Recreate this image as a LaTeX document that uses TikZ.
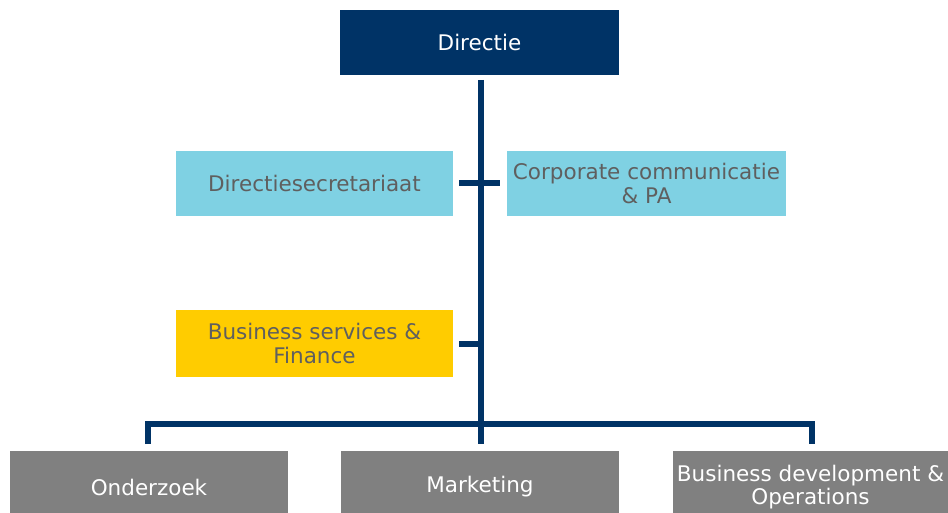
\documentclass[tikz,border=0pt]{standalone}
\usepackage{fontspec}
\setmainfont{DejaVu Sans}
\definecolor{navy}{RGB}{0,51,102}
\definecolor{lblue}{RGB}{127,209,227}
\definecolor{gold}{RGB}{255,204,0}
\definecolor{greybox}{RGB}{128,128,128}
\definecolor{txtgrey}{RGB}{95,95,95}
\begin{document}
\begin{tikzpicture}[x=1pt,y=-1pt,
  box/.style={rectangle,inner sep=0pt,align=center,font=\fontsize{21.5}{23.5}\selectfont},
  conn/.style={draw=navy,line width=6pt}]
\useasboundingbox (0,0) rectangle (948,513);
\clip (0,0) rectangle (948,513);
\node[box,fill=navy,text=white,minimum width=279pt,minimum height=65pt] (dir) at (479.5,42.5) {Directie};
\node[box,fill=lblue,text=txtgrey,minimum width=277pt,minimum height=65pt] (sec) at (314.5,183.5) {Directiesecretariaat};
\node[box,fill=lblue,text=txtgrey,minimum width=279pt,minimum height=65pt] (cc) at (646.5,183.5) {Corporate communicatie\\\& PA};
\node[box,fill=gold,text=txtgrey,minimum width=277pt,minimum height=67pt] (bs) at (314.5,343.5) {Business services \&\\Finance};
\node[box,fill=greybox,text=white,minimum width=278pt,minimum height=72pt] (ond) at (149,487) {Onderzoek};
\node[box,fill=greybox,text=white,minimum width=278pt,minimum height=72pt] (mkt) at (480,487) {Marketing};
\node[box,fill=greybox,text=white,minimum width=275pt,minimum height=72pt] (bd) at (810.5,487) {Business development \&\\Operations};
\coordinate (top) at (481,80);
\coordinate (bot) at (481,444);
\coordinate (jl) at (148,424);
\coordinate (jr) at (812,424);
\draw[conn] (top) -- (bot);
\draw[conn] ([xshift=6pt]sec.east |- 0,183) -- ([xshift=-7pt]cc.west |- 0,183);
\draw[conn] ([xshift=6pt]bs.east) -- (481,343.5);
\draw[conn,line cap=butt] (jl |- 0,444) -- (jl) -- (jr) -- (jr |- 0,444);
\end{tikzpicture}
\end{document}
